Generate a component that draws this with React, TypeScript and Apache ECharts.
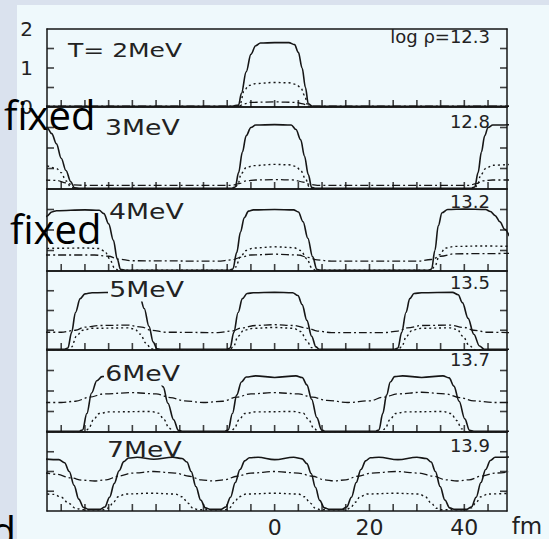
import React, { useEffect, useRef } from "react";
import * as echarts from "echarts";

// ---------- text content ----------
const tempLabels = ["T= 2MeV", "3MeV", "4MeV", "5MeV", "6MeV", "7MeV"];
const densityLabels = ["log ρ=12.3", "12.8", "13.2", "13.5", "13.7", "13.9"];
const xTickValues = [-45, -40, -35, -30, -25, -20, -15, -10, -5, 0, 5, 10, 15, 20, 25, 30, 35, 40, 45];
const xLabelValues = [0, 20, 40];
const yTickValues = [0.5, 1, 1.5];
const yLabelValues = [0, 1, 2];
const xUnit = "fm";
const overlayWord = "fixed";

// ---------- data: [x (fm), y] ----------
const p1Solid = [[-49,0.02],[-9,0.02],[-7.6,0.05],[-7,0.35],[-6,0.9],[-5,1.35],[-4,1.57],[-3,1.64],[0,1.65],[3,1.65],[4.2,1.6],[5,1.4],[5.8,1.0],[6.5,0.5],[7.1,0.08],[8,0.02],[50,0.02]];
const p1Dotted = [[-49,0.01],[-8,0.01],[-7.2,0.1],[-6.5,0.4],[-5.5,0.55],[-4,0.6],[0,0.63],[3,0.62],[4.5,0.58],[5.5,0.5],[6.3,0.3],[7,0.05],[7.8,0.01],[50,0.01]];
const p1DashDot = [[-49,0.02],[-7.5,0.02],[-6.5,0.08],[-5,0.12],[0,0.13],[4.5,0.12],[6,0.08],[7,0.02],[50,0.02]];

const p2Solid = [[-49,1.55],[-48,1.5],[-47,1.35],[-46,1.1],[-45,0.75],[-44,0.45],[-43,0.18],[-42.2,0.03],[-41,0.02],[-9,0.02],[-8.3,0.05],[-7.6,0.4],[-6.8,0.9],[-6,1.3],[-5,1.5],[-4,1.56],[0,1.57],[3.5,1.56],[4.5,1.45],[5.5,1.2],[6.3,0.8],[7.1,0.35],[7.8,0.04],[8.5,0.02],[41.5,0.02],[42.2,0.05],[42.9,0.4],[43.6,0.9],[44.3,1.3],[45,1.5],[46,1.56],[50,1.57]];
const p2Dotted = [[-49,0.58],[-48,0.56],[-46,0.5],[-45,0.4],[-44,0.2],[-43,0.05],[-42,0.01],[-8.5,0.01],[-7.8,0.1],[-7,0.38],[-6,0.52],[-4.5,0.57],[0,0.6],[3,0.59],[4.5,0.55],[5.5,0.45],[6.5,0.25],[7.3,0.05],[8,0.01],[42,0.01],[42.7,0.08],[43.5,0.35],[44.5,0.5],[46,0.58],[50,0.6]];
const p2DashDot = [[-49,0.22],[-46,0.21],[-44,0.15],[-42.5,0.1],[-40,0.09],[-9,0.09],[-7.5,0.13],[-6,0.2],[-4,0.22],[0,0.23],[4,0.22],[6,0.17],[7.5,0.11],[9,0.09],[41,0.09],[42.5,0.13],[44,0.2],[46,0.22],[50,0.22]];

const p3Solid = [[-49,1.15],[-48,1.34],[-47,1.44],[-46,1.47],[-40,1.49],[-37,1.48],[-36,1.4],[-35,1.15],[-34,0.75],[-33.2,0.3],[-32.5,0.04],[-31.5,0.02],[-9.5,0.02],[-8.8,0.05],[-8,0.45],[-7.2,0.95],[-6.4,1.3],[-5.5,1.46],[-4.5,1.49],[0,1.5],[4,1.49],[5,1.44],[6,1.2],[7,0.8],[8,0.35],[8.9,0.04],[9.5,0.02],[32.5,0.02],[33.1,0.05],[33.8,0.5],[34.5,1.1],[35.3,1.42],[36.5,1.5],[40,1.51],[44.5,1.5],[45.5,1.45],[46.5,1.35],[47.5,1.2],[48.5,1.02],[49.5,0.85]];
const p3Dotted = [[-49,0.55],[-40,0.56],[-37,0.55],[-35.8,0.48],[-34.8,0.3],[-33.8,0.08],[-33,0.02],[-9,0.02],[-8.2,0.1],[-7.2,0.35],[-6,0.5],[-4.5,0.56],[0,0.59],[4,0.57],[5.5,0.5],[6.8,0.3],[7.8,0.08],[8.6,0.02],[33,0.02],[33.8,0.12],[34.8,0.4],[36,0.56],[38,0.6],[44,0.61],[50,0.6]];
const p3DashDot = [[-49,0.39],[-38,0.39],[-35,0.36],[-33,0.29],[-30,0.25],[-12,0.24],[-9,0.27],[-7,0.34],[-5,0.39],[0,0.41],[5,0.39],[7,0.33],[9,0.27],[12,0.24],[30,0.24],[33,0.28],[35,0.36],[38,0.42],[50,0.43]];

const p4Solid = [[-49,0.02],[-44.3,0.02],[-43.6,0.05],[-42.8,0.45],[-42,0.95],[-41,1.3],[-40,1.42],[-38.5,1.45],[-33,1.46],[-29.5,1.44],[-28.4,1.35],[-27.5,1.05],[-26.5,0.6],[-25.6,0.2],[-24.8,0.03],[-24,0.02],[-10,0.02],[-9.4,0.05],[-8.6,0.45],[-7.7,0.95],[-6.8,1.3],[-5.8,1.43],[-4.5,1.45],[0,1.46],[3.8,1.45],[4.9,1.38],[5.8,1.15],[6.8,0.75],[7.8,0.35],[8.7,0.08],[9.4,0.02],[25.3,0.02],[26,0.05],[26.8,0.45],[27.7,0.95],[28.5,1.3],[29.4,1.43],[31,1.45],[37.5,1.46],[38.7,1.4],[39.6,1.2],[40.8,0.8],[42,0.4],[43.2,0.1],[44.2,0.02],[50,0.02]];
const p4Dotted = [[-49,0.01],[-43.5,0.01],[-42.8,0.08],[-41.8,0.35],[-40.5,0.5],[-38.5,0.55],[-31,0.56],[-29.5,0.53],[-28.3,0.4],[-27.2,0.18],[-26,0.03],[-25,0.01],[-9.5,0.01],[-8.7,0.08],[-7.7,0.35],[-6.5,0.5],[-4.5,0.55],[0,0.57],[4,0.55],[5.5,0.47],[6.7,0.25],[7.8,0.06],[8.7,0.01],[26,0.01],[26.8,0.08],[27.8,0.35],[29,0.5],[31,0.55],[37,0.56],[38.5,0.52],[39.7,0.35],[41,0.12],[42.2,0.01],[50,0.01]];
const p4DashDot = [[-49,0.45],[-45,0.45],[-42,0.5],[-40,0.58],[-37,0.62],[-31,0.63],[-28,0.58],[-26,0.5],[-23,0.45],[-12,0.44],[-9,0.48],[-7,0.56],[-4,0.62],[0,0.64],[4,0.62],[7,0.55],[9,0.48],[12,0.44],[23,0.44],[26,0.48],[28,0.56],[31,0.62],[37,0.63],[40,0.57],[42,0.5],[45,0.45],[50,0.44]];

const p5Solid = [[-49,0.02],[-41.2,0.02],[-40.5,0.05],[-39.6,0.45],[-38.6,0.95],[-37.5,1.25],[-36.4,1.35],[-34.5,1.37],[-30,1.34],[-26,1.37],[-24.5,1.32],[-23.5,1.1],[-22.5,0.7],[-21.3,0.3],[-20.3,0.04],[-19.5,0.02],[-10.5,0.02],[-9.8,0.05],[-8.9,0.45],[-8,0.9],[-7,1.22],[-6,1.34],[-4,1.37],[0,1.33],[4.5,1.37],[5.8,1.33],[6.8,1.15],[7.8,0.8],[8.9,0.35],[9.9,0.05],[10.6,0.02],[21.3,0.02],[22,0.05],[22.8,0.45],[23.6,0.9],[24.4,1.22],[25.3,1.35],[27,1.37],[31,1.33],[35.5,1.37],[36.8,1.32],[37.8,1.12],[38.9,0.75],[40.1,0.32],[41.1,0.04],[42,0.02],[50,0.02]];
const p5Dotted = [[-49,0.01],[-40,0.01],[-39.2,0.08],[-38.2,0.3],[-37,0.45],[-35,0.49],[-26,0.5],[-24.5,0.46],[-23.3,0.3],[-22.3,0.1],[-21.3,0.01],[-9.3,0.01],[-8.5,0.08],[-7.5,0.3],[-6.3,0.45],[-4,0.49],[4,0.5],[6,0.46],[7.2,0.3],[8.2,0.1],[9.2,0.01],[22.5,0.01],[23.3,0.08],[24.3,0.3],[25.5,0.45],[27.5,0.49],[35.5,0.5],[37.2,0.45],[38.4,0.28],[39.4,0.08],[40.3,0.01],[50,0.01]];
const p5DashDot = [[-49,0.72],[-45,0.72],[-42,0.75],[-39,0.85],[-36,0.93],[-30,0.96],[-25,0.93],[-22,0.84],[-19,0.76],[-15,0.72],[-11,0.75],[-8,0.85],[-5,0.93],[0,0.96],[5,0.93],[8,0.85],[11,0.77],[15.5,0.72],[20,0.76],[23,0.85],[26,0.93],[31,0.97],[36,0.93],[39,0.84],[42,0.76],[46,0.72],[50,0.72]];

const p6Solid = [[-49,1.32],[-45.5,1.3],[-44.3,1.22],[-43.3,1.0],[-42.3,0.65],[-41.3,0.3],[-40.3,0.09],[-39.2,0.04],[-36.8,0.04],[-35.8,0.1],[-34.8,0.35],[-33.8,0.7],[-32.8,1.02],[-31.8,1.25],[-30.8,1.34],[-29,1.36],[-25.5,1.31],[-21.5,1.36],[-19.5,1.33],[-18.5,1.24],[-17.6,1.0],[-16.6,0.62],[-15.6,0.28],[-14.6,0.08],[-13.5,0.04],[-11.3,0.04],[-10.3,0.1],[-9.3,0.35],[-8.3,0.72],[-7.3,1.05],[-6.3,1.27],[-5.3,1.35],[-3.5,1.36],[0,1.3],[4,1.36],[5.8,1.32],[6.8,1.2],[7.7,0.95],[8.6,0.6],[9.5,0.27],[10.5,0.08],[11.6,0.04],[14.2,0.04],[15.2,0.1],[16.2,0.35],[17.2,0.72],[18.2,1.05],[19.2,1.27],[20.2,1.35],[22,1.36],[26,1.3],[30,1.36],[32,1.33],[33,1.24],[33.9,1.0],[34.9,0.62],[35.9,0.28],[36.9,0.08],[38,0.04],[40.5,0.04],[41.5,0.1],[42.5,0.35],[43.5,0.72],[44.5,1.05],[45.5,1.28],[46.5,1.36],[50,1.37]];
const p6Dotted = [[-49,0.44],[-46.5,0.42],[-45,0.35],[-43.5,0.2],[-42,0.07],[-40.5,0.03],[-36,0.03],[-35,0.08],[-34,0.22],[-33,0.36],[-31.5,0.43],[-26,0.45],[-21,0.43],[-19.5,0.36],[-18.3,0.2],[-17.2,0.07],[-16,0.03],[-10.5,0.03],[-9.5,0.08],[-8.5,0.22],[-7.5,0.36],[-6,0.43],[0,0.45],[5,0.43],[6.3,0.36],[7.5,0.2],[8.6,0.07],[9.8,0.03],[15,0.03],[16,0.08],[17,0.22],[18,0.36],[19.5,0.43],[25.5,0.45],[30.5,0.43],[31.8,0.36],[33,0.2],[34.1,0.07],[35.3,0.03],[40.5,0.03],[41.5,0.08],[42.5,0.22],[43.5,0.36],[45,0.43],[50,0.45]];
const p6DashDot = [[-49,0.98],[-46,0.93],[-43,0.84],[-40.5,0.78],[-38,0.76],[-35.5,0.79],[-33,0.88],[-30,0.96],[-25.5,1.0],[-21,0.96],[-18,0.88],[-15.5,0.79],[-13,0.76],[-10.5,0.79],[-8,0.88],[-5,0.96],[0,1.0],[5,0.96],[8,0.88],[10.5,0.79],[12.5,0.76],[15,0.79],[17.5,0.88],[20.5,0.96],[25.5,1.0],[30.5,0.96],[33.5,0.88],[36,0.79],[38.5,0.76],[41,0.79],[43.5,0.88],[46.5,0.96],[50,1.0]];

const panelSolid = [p1Solid, p2Solid, p3Solid, p4Solid, p5Solid, p6Solid];
const panelDotted = [p1Dotted, p2Dotted, p3Dotted, p4Dotted, p5Dotted, p6Dotted];
const panelDashDot = [p1DashDot, p2DashDot, p3DashDot, p4DashDot, p5DashDot, p6DashDot];

// ---------- axis ranges ----------
const X_MIN = -48;
const X_MAX = 49;
const Y_MIN = 0;
const Y_MAX = 2;

// ---------- layout (pixels) ----------
const W = 549;
const H = 539;
const GRID_LEFT = 47;
const GRID_WIDTH = 460;
const gridTops = [29, 107, 189, 271, 350, 432];
const gridHeights = [78, 82, 82, 79, 82, 79];
const tempLabelPos = [[68, 50], [105, 128], [109, 212], [108, 290], [104, 374], [107, 450]];
const tempLabelMask = [false, false, false, true, true, false];
const densityLabelPos = [[490, 36], [490, 121], [490, 201], [490, 282], [490, 359], [490, 445]];

const INK = "#161616";
const PLOT_BG = "#eff9fc";
const STRIP = "#dae2ee";

export default function App() {
  const ref = useRef<HTMLDivElement>(null);

  useEffect(() => {
    if (!ref.current) return;
    const chart = echarts.init(ref.current, null, { renderer: "svg" });

    const grids = gridTops.map((t, i) => ({
      left: GRID_LEFT,
      width: GRID_WIDTH,
      top: t,
      height: gridHeights[i],
      show: false,
    }));

    const lineStyle = { color: INK, width: 1.5 };

    const xAxes: any[] = [];
    gridTops.forEach((_, i) => {
      ["bottom", "top"].forEach((pos) => {
        xAxes.push({
          type: "value",
          gridIndex: i,
          position: pos,
          min: X_MIN,
          max: X_MAX,
          axisLine: { show: true, onZero: false, lineStyle },
          splitLine: { show: false },
          axisTick: { show: false },
          axisLabel: {
            show: i === 5 && pos === "bottom",
            customValues: xLabelValues,
            fontSize: 22,
            lineHeight: 22,
            fontFamily: "DejaVu Sans",
            color: "#222",
            margin: 5,
          },
        });
      });
    });

    const yAxes: any[] = [];
    gridTops.forEach((_, i) => {
      ["left", "right"].forEach((pos) => {
        yAxes.push({
          type: "value",
          gridIndex: i,
          position: pos,
          min: Y_MIN,
          max: Y_MAX,
          interval: 0.5,
          axisLine: { show: true, onZero: false, lineStyle },
          splitLine: { show: false },
          axisTick: { show: false },
          axisLabel: {
            show: i === 0 && pos === "left",
            customValues: yLabelValues,
            fontSize: 20,
            fontFamily: "DejaVu Sans",
            color: "#222",
            margin: 14,
          },
        });
      });
    });

    const series: any[] = [];
    gridTops.forEach((_, i) => {
      const common = {
        type: "line",
        xAxisIndex: 2 * i,
        yAxisIndex: 2 * i,
        symbol: "none",
        smooth: 0.35,
        smoothMonotone: "x",
        clip: true,
        silent: true,
      };
      series.push({ ...common, data: panelSolid[i], lineStyle: { color: INK, width: 1.6, type: "solid" }, z: 4 });
      series.push({ ...common, data: panelDotted[i], lineStyle: { color: INK, width: 1.4, type: [2, 3] }, z: 3 });
      series.push({ ...common, data: panelDashDot[i], lineStyle: { color: INK, width: 1.3, type: [8, 3, 2, 3] }, z: 3 });

      // inward tick marks, placed through the axes' own scales
      const tickCommon = {
        type: "scatter",
        xAxisIndex: 2 * i,
        yAxisIndex: 2 * i,
        symbol: "rect",
        clip: false,
        silent: true,
        itemStyle: { color: "#111" },
        z: 5,
      };
      series.push({ ...tickCommon, data: xTickValues.map((v) => [v, Y_MIN]), symbolSize: [1.6, 7], symbolOffset: [0, -3.5] });
      series.push({ ...tickCommon, data: yTickValues.map((v) => [X_MIN, v]), symbolSize: [7, 1.6], symbolOffset: [3.5, 0] });
      series.push({ ...tickCommon, data: yTickValues.map((v) => [X_MAX, v]), symbolSize: [7, 1.6], symbolOffset: [-3.5, 0] });
    });

    const graphics: any[] = [
      { type: "rect", shape: { x: 0, y: 0, width: 17, height: H }, style: { fill: STRIP }, z: 1, silent: true },
      { type: "rect", shape: { x: 0, y: 0, width: W, height: 5 }, style: { fill: STRIP }, z: 1, silent: true },
    ];

    tempLabels.forEach((t, i) => {
      graphics.push({
        type: "text",
        x: tempLabelPos[i][0],
        y: tempLabelPos[i][1],
        scaleX: i === 0 ? 1.25 : 1.27,
        z: 50,
        silent: true,
        style: {
          text: t,
          x: 0,
          y: 0,
          fill: "#222",
          fontSize: i === 0 ? 20 : 21,
          fontFamily: "DejaVu Sans",
          align: "left",
          verticalAlign: "middle",
          backgroundColor: tempLabelMask[i] ? PLOT_BG : "transparent",
          padding: tempLabelMask[i] ? [1, 1] : 0,
        },
      });
    });

    densityLabels.forEach((t, i) => {
      graphics.push({
        type: "text",
        x: densityLabelPos[i][0],
        y: densityLabelPos[i][1],
        z: 50,
        silent: true,
        style: {
          text: t,
          x: 0,
          y: 0,
          fill: "#222",
          fontSize: 18,
          fontFamily: "DejaVu Sans",
          align: "right",
          verticalAlign: "middle",
        },
      });
    });

    graphics.push({
      type: "text",
      x: 527,
      y: 526,
      z: 50,
      silent: true,
      style: { text: xUnit, x: 0, y: 0, fill: "#222", fontSize: 23, fontFamily: "DejaVu Sans", align: "center", verticalAlign: "middle" },
    });

    const overlayPos = [[4, 114, "left"], [10, 228, "left"], [16, 530, "right"]];
    overlayPos.forEach((p) => {
      graphics.push({
        type: "text",
        x: p[0],
        y: p[1],
        z: 100,
        silent: true,
        style: { text: overlayWord, x: 0, y: 0, fill: "#000", fontSize: 40, fontFamily: "Open Sans", align: p[2], verticalAlign: "middle" },
      });
    });

    chart.setOption({
      animation: false,
      backgroundColor: PLOT_BG,
      grid: grids,
      xAxis: xAxes,
      yAxis: yAxes,
      series,
      graphic: { elements: graphics },
    });

    return () => chart.dispose();
  }, []);

  return (
    <div
      ref={ref}
      style={{ position: "fixed", left: 0, top: 0, width: W, height: H }}
    />
  );
}
